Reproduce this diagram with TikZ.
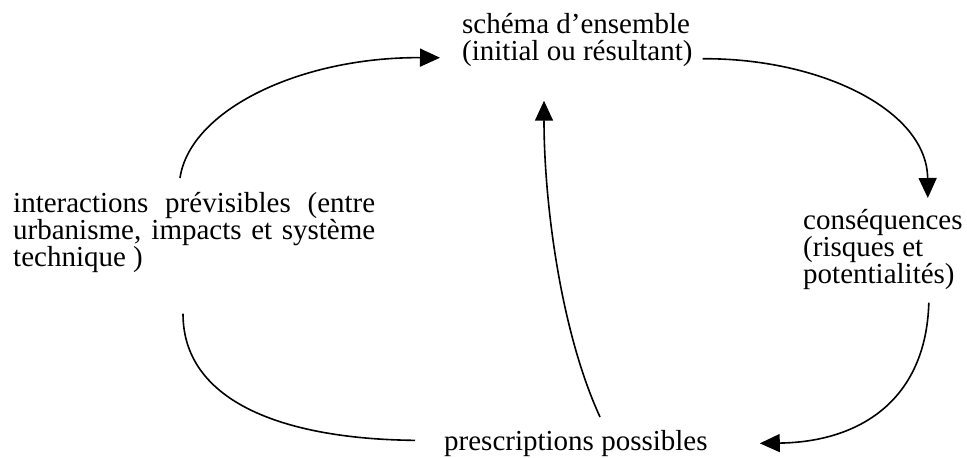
\documentclass[tikz,border=0pt]{standalone}
\usepackage{fontspec}
\setmainfont{Liberation Serif}
\usetikzlibrary{arrows.meta,calc}

\begin{document}
\begin{tikzpicture}[x=1pt,y=-1pt,
  txt/.style={inner sep=0pt, anchor=north west, align=left,
              font=\fontsize{29}{27}\selectfont},
  link/.style={line width=1.6pt},
  flow/.style={link, -{Triangle[length=20pt,width=18pt]}}]
\useasboundingbox (0,0) rectangle (967,458);

% text blocks of the cycle
\node[txt] (schema) at (462,13) {schéma d’ensemble\\(initial ou résultant)};
\node[txt] (inter) at (13,192)
  {\makebox[362pt][s]{interactions prévisibles (entre}\\
   \makebox[362pt][s]{urbanisme, impacts et système}\\
   technique )};
\node[txt] (cons) at (803,209) {conséquences\\(risques et\\potentialités)};
\node[txt] (presc) at (444,430) {prescriptions possibles};

% connectors
\draw[flow] ($(inter.north west)+(167,-14)$)
  .. controls (190,110) and (300,57) .. ($(schema.south west)+(-22,-9)$);
\draw[flow] ($(schema.south east)+(10,-8)$)
  .. controls (820,58) and (927,110) .. ($(cons.north east)+(-35,-11)$);
\draw[flow] ($(cons.south east)+(-34,13)$)
  .. controls (926,400) and (860,442) .. ($(presc.east)+(52,0)$);
\draw[flow] ($(presc.north west)+(156,-13)$)
  .. controls (560,330) and (544,200) .. ($(schema.south west)+(82,34)$);
\draw[link] ($(inter.south west)+(170,41)$)
  .. controls (183,400) and (280,439) .. ($(presc.west)+(-29,-3)$);
\end{tikzpicture}
\end{document}
